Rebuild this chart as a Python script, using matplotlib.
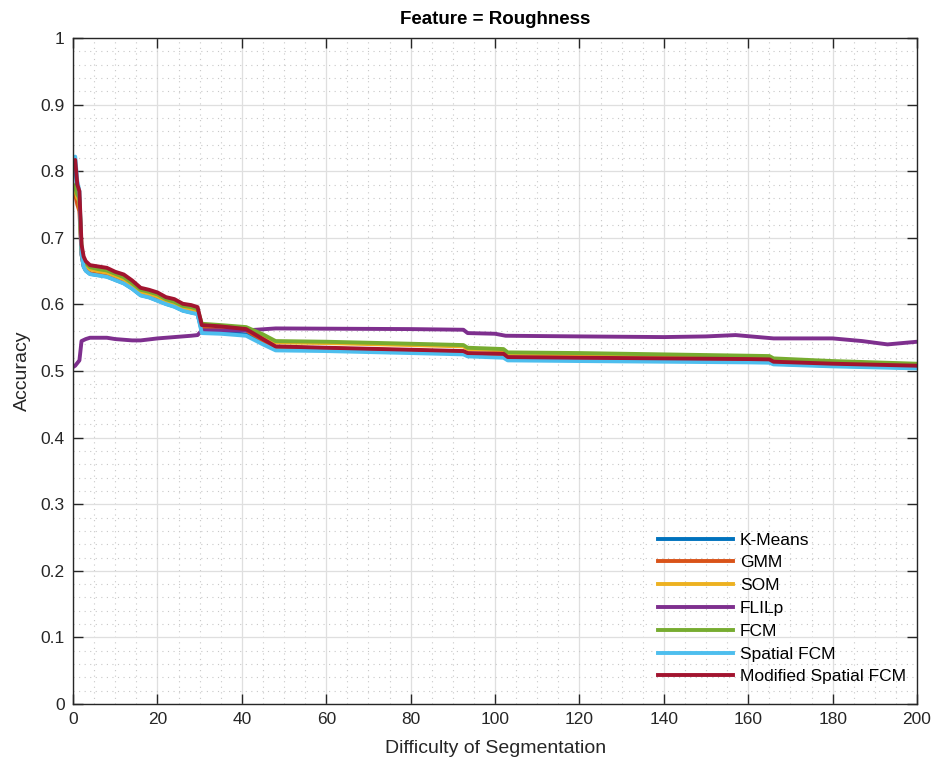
import numpy as np
import matplotlib
matplotlib.use('Agg')
import matplotlib.pyplot as plt
from matplotlib.ticker import MultipleLocator

plt.rcParams['font.family'] = ['Liberation Sans', 'DejaVu Sans']

# difficulty breakpoints shared by the clustering methods
difficulty = [0, 0.5, 1, 1.5, 2, 2.5, 3, 4, 6, 8, 10, 12, 14, 16, 18, 20, 22, 24, 26, 28,
              29.5, 30.5, 35, 41, 45, 48, 60, 80, 92.5, 93.5, 102, 103, 120, 140, 160,
              165, 166, 180, 200]

kmeans = [0.80, 0.81, 0.77, 0.755, 0.675, 0.657, 0.651, 0.646, 0.644, 0.642, 0.637, 0.632,
          0.624, 0.614, 0.611, 0.606, 0.601, 0.597, 0.591, 0.588, 0.586, 0.560, 0.558,
          0.555, 0.542, 0.533, 0.532, 0.529, 0.527, 0.524, 0.522, 0.518, 0.517, 0.516,
          0.515, 0.5145, 0.511, 0.508, 0.505]
gmm = [0.77, 0.765, 0.75, 0.74, 0.675, 0.658, 0.652, 0.647, 0.645, 0.643, 0.638, 0.633,
       0.625, 0.615, 0.612, 0.607, 0.602, 0.598, 0.592, 0.589, 0.587, 0.566, 0.564, 0.561,
       0.546, 0.536, 0.534, 0.531, 0.529, 0.526, 0.524, 0.520, 0.519, 0.518, 0.517, 0.5165,
       0.513, 0.510, 0.507]
som = [0.775, 0.772, 0.76, 0.755, 0.682, 0.665, 0.659, 0.653, 0.650, 0.648, 0.643, 0.638,
       0.629, 0.619, 0.616, 0.612, 0.605, 0.601, 0.595, 0.593, 0.590, 0.569, 0.567, 0.564,
       0.553, 0.543, 0.542, 0.539, 0.537, 0.533, 0.531, 0.526, 0.525, 0.523, 0.521, 0.5205,
       0.517, 0.513, 0.510]
fcm = [0.78, 0.775, 0.765, 0.76, 0.685, 0.668, 0.662, 0.656, 0.653, 0.651, 0.646, 0.641,
       0.632, 0.622, 0.619, 0.615, 0.608, 0.604, 0.598, 0.596, 0.593, 0.571, 0.569, 0.566,
       0.555, 0.545, 0.544, 0.541, 0.539, 0.535, 0.533, 0.528, 0.527, 0.525, 0.523, 0.5225,
       0.519, 0.515, 0.511]
spatial_fcm = [0.81, 0.822, 0.785, 0.77, 0.676, 0.6565, 0.6505, 0.6455, 0.6435, 0.6415,
               0.6365, 0.6315, 0.6235, 0.6135, 0.6105, 0.6055, 0.6005, 0.5965, 0.5905,
               0.5875, 0.5855, 0.557, 0.556, 0.553, 0.540, 0.531, 0.530, 0.527, 0.525,
               0.522, 0.520, 0.516, 0.515, 0.514, 0.513, 0.5125, 0.510, 0.507, 0.504]
mod_spatial_fcm = [0.81, 0.817, 0.78, 0.77, 0.69, 0.672, 0.665, 0.659, 0.657, 0.655, 0.649,
                   0.645, 0.636, 0.625, 0.622, 0.618, 0.611, 0.608, 0.601, 0.599, 0.596,
                   0.569, 0.567, 0.563, 0.548, 0.537, 0.535, 0.532, 0.530, 0.527, 0.526,
                   0.521, 0.520, 0.519, 0.518, 0.5175, 0.514, 0.511, 0.508]

flilp_x = [0, 0.5, 1, 1.5, 2, 3, 4, 8, 10, 14, 16, 20, 24, 28, 29.5, 30.5, 41, 48, 80,
           92.5, 93.5, 100, 102.5, 120, 140, 150, 157, 166, 180, 187, 193, 200]
flilp_y = [0.506, 0.508, 0.512, 0.516, 0.545, 0.548, 0.550, 0.550, 0.548, 0.546, 0.546,
           0.549, 0.551, 0.553, 0.554, 0.561, 0.561, 0.564, 0.563, 0.562, 0.557, 0.556,
           0.553, 0.552, 0.551, 0.552, 0.554, 0.549, 0.549, 0.545, 0.540, 0.544]

series = [('K-Means', difficulty, kmeans, '#0072BD'),
          ('GMM', difficulty, gmm, '#D95319'),
          ('SOM', difficulty, som, '#EDB120'),
          ('FLILp', flilp_x, flilp_y, '#7E2F8E'),
          ('FCM', difficulty, fcm, '#77AC30'),
          ('Spatial FCM', difficulty, spatial_fcm, '#4DBEEE'),
          ('Modified Spatial FCM', difficulty, mod_spatial_fcm, '#A2142F')]

fig = plt.figure(figsize=(9.37, 7.69), dpi=100)
ax = fig.add_axes([0.078, 0.0845, 0.9007, 0.866])

for name, xs, ys, col in series:
    ax.plot(xs, ys, color=col, lw=2.8, label=name)

ax.set_xlim(0, 200)
ax.set_ylim(0, 1)
ax.xaxis.set_major_locator(MultipleLocator(20))
ax.xaxis.set_minor_locator(MultipleLocator(5))
ax.yaxis.set_minor_locator(MultipleLocator(0.02))
ax.set_yticks(np.arange(0, 1.01, 0.1))
ax.set_yticklabels(['0', '0.1', '0.2', '0.3', '0.4', '0.5', '0.6', '0.7', '0.8', '0.9', '1'])

ax.grid(True, which='major', color='#dfdfdf', lw=0.9)
ax.grid(True, which='minor', color='#c8c8c8', lw=0.8, ls=(0, (1, 4)))
ax.set_axisbelow(True)

ax.tick_params(which='major', direction='in', length=7, width=1, top=True, right=True,
               labelsize=12.5, colors='#262626', pad=6)
ax.tick_params(which='minor', length=0, top=True, right=True)
for sp in ax.spines.values():
    sp.set_color('#262626')
    sp.set_linewidth(1)

ax.set_xlabel('Difficulty of Segmentation', fontsize=14, color='#262626', labelpad=9)
ax.set_ylabel('Accuracy', fontsize=14, color='#262626', labelpad=7)
ax.set_title('Feature = Roughness', fontsize=13.5, fontweight='bold', pad=10)

ax.legend(loc='lower left', bbox_to_anchor=(0.675, 0.006), frameon=False, fontsize=12.5,
          handlelength=4.3, handletextpad=0.4, labelspacing=0.44)

fig.savefig('out.png', dpi=100)
